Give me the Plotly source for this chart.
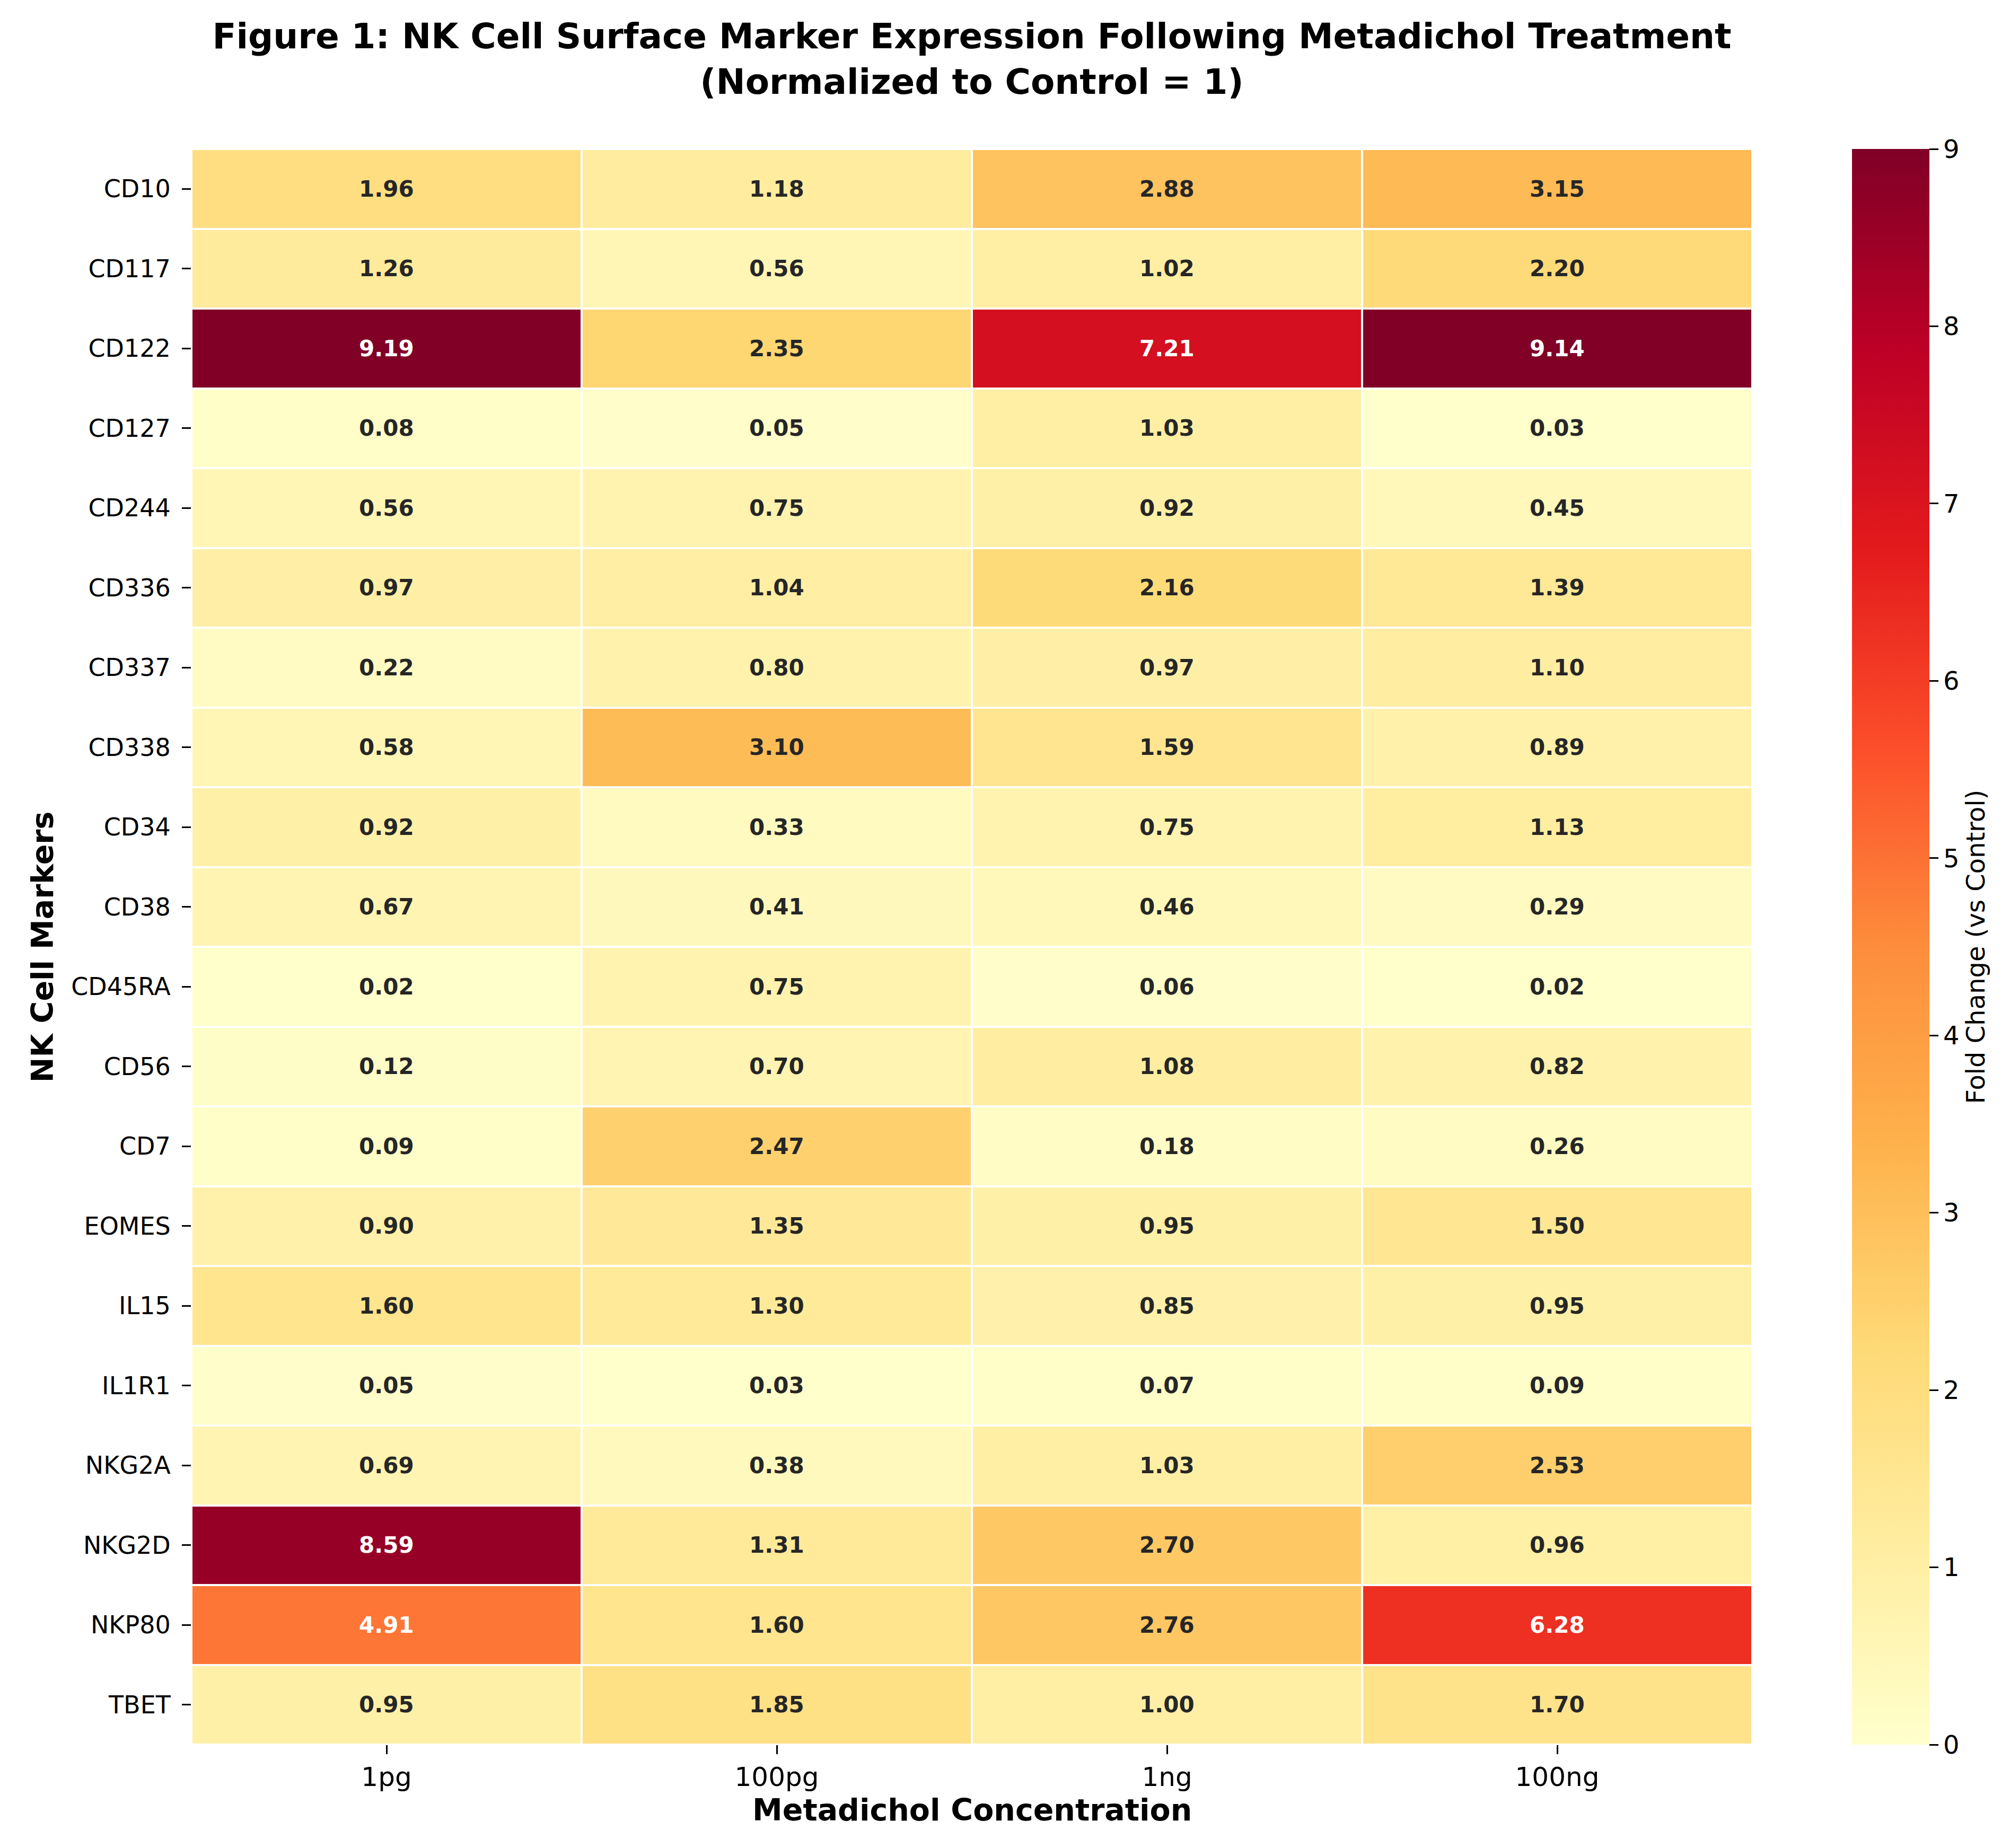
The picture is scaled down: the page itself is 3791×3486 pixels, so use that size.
import plotly.graph_objects as go

markers = ["CD10", "CD117", "CD122", "CD127", "CD244", "CD336", "CD337", "CD338",
           "CD34", "CD38", "CD45RA", "CD56", "CD7", "EOMES", "IL15", "IL1R1",
           "NKG2A", "NKG2D", "NKP80", "TBET"]
concentrations = ["1pg", "100pg", "1ng", "100ng"]

val_1pg = [1.96, 1.26, 9.19, 0.08, 0.56, 0.97, 0.22, 0.58, 0.92, 0.67,
           0.02, 0.12, 0.09, 0.90, 1.60, 0.05, 0.69, 8.59, 4.91, 0.95]
val_100pg = [1.18, 0.56, 2.35, 0.05, 0.75, 1.04, 0.80, 3.10, 0.33, 0.41,
             0.75, 0.70, 2.47, 1.35, 1.30, 0.03, 0.38, 1.31, 1.60, 1.85]
val_1ng = [2.88, 1.02, 7.21, 1.03, 0.92, 2.16, 0.97, 1.59, 0.75, 0.46,
           0.06, 1.08, 0.18, 0.95, 0.85, 0.07, 1.03, 2.70, 2.76, 1.00]
val_100ng = [3.15, 2.20, 9.14, 0.03, 0.45, 1.39, 1.10, 0.89, 1.13, 0.29,
             0.02, 0.82, 0.26, 1.50, 0.95, 0.09, 2.53, 0.96, 6.28, 1.70]

colorbar_ticks = [0, 1, 2, 3, 4, 5, 6, 7, 8, 9]

ylorrd = ["#ffffcc", "#ffeda0", "#fed976", "#feb24c", "#fd8d3c",
          "#fc4e2a", "#e31a1c", "#bd0026", "#800026"]
ZMIN, ZMAX = 0, 9
FONT = "DejaVu Sans"

columns = [val_1pg, val_100pg, val_1ng, val_100ng]
z = [[columns[j][i] for j in range(len(concentrations))] for i in range(len(markers))]

colorscale = [[k / (len(ylorrd) - 1), c] for k, c in enumerate(ylorrd)]


def hex_rgb(h):
    h = h.lstrip("#")
    return [int(h[i:i + 2], 16) for i in (0, 2, 4)]


def cell_color(v):
    t = min(max((v - ZMIN) / (ZMAX - ZMIN), 0), 1) * (len(ylorrd) - 1)
    i = min(int(t), len(ylorrd) - 2)
    f = t - i
    a, b = hex_rgb(ylorrd[i]), hex_rgb(ylorrd[i + 1])
    return [a[k] + (b[k] - a[k]) * f for k in range(3)]


def luminance(rgb):
    out = []
    for c in rgb:
        c = c / 255
        out.append(c / 12.92 if c <= 0.03928 else ((c + 0.055) / 1.055) ** 2.4)
    return 0.2126 * out[0] + 0.7152 * out[1] + 0.0722 * out[2]


fig = go.Figure()
fig.add_trace(go.Heatmap(
    z=z, x=concentrations, y=markers,
    colorscale=colorscale, zmin=ZMIN, zmax=ZMAX,
    xgap=4, ygap=4,
    colorbar=dict(
        x=1.0639, xanchor="left", xpad=0,
        y=0.5, yanchor="middle", len=1.0, lenmode="fraction", ypad=0,
        thickness=146, thicknessmode="pixels",
        outlinewidth=0,
        tickmode="array", tickvals=colorbar_ticks,
        ticks="outside", ticklen=17, tickwidth=3, tickcolor="black",
        tickfont=dict(family=FONT, size=48, color="black"),
        title=dict(text="Fold Change (vs Control)", side="right",
                   font=dict(family=FONT, size=48, color="black")),
    ),
    hoverongaps=False,
))

annotations = []
for i, m in enumerate(markers):
    for j, c in enumerate(concentrations):
        v = z[i][j]
        col = "#262626" if luminance(cell_color(v)) > 0.408 else "white"
        annotations.append(dict(
            x=c, y=m, xref="x", yref="y", text=f"<b>{v:.2f}</b>",
            showarrow=False, font=dict(family=FONT, size=42, color=col),
        ))

annotations.append(dict(
    text="<b>NK Cell Markers</b>", xref="paper", yref="paper",
    x=-0.0954, y=0.5, xanchor="center", yanchor="middle", textangle=-90,
    showarrow=False, font=dict(family=FONT, size=57, color="black"),
))
annotations.append(dict(
    text="<b>Metadichol Concentration</b>", xref="paper", yref="paper",
    x=0.5, y=-0.041, xanchor="center", yanchor="middle",
    showarrow=False, font=dict(family=FONT, size=57, color="black"),
))

fig.update_layout(
    width=3791, height=3486,
    margin=dict(l=353, r=494, t=273, b=203, autoexpand=False),
    paper_bgcolor="white", plot_bgcolor="white",
    font=dict(family=FONT, color="black"),
    title=dict(
        text="<b>Figure 1: NK Cell Surface Marker Expression Following Metadichol Treatment"
             "<br>(Normalized to Control = 1)</b>",
        x=0.5, xref="paper", xanchor="center",
        y=1 - 83 / 3486, yref="container", yanchor="middle",
        font=dict(family=FONT, size=66, color="black"),
    ),
    xaxis=dict(
        type="category", showgrid=False, zeroline=False, showline=False,
        ticks="outside", ticklen=17, tickwidth=3, tickcolor="black",
        tickfont=dict(family=FONT, size=50, color="black"),
        ticklabelstandoff=0,
    ),
    yaxis=dict(
        type="category", autorange="reversed", showgrid=False, zeroline=False,
        showline=False,
        ticks="outside", ticklen=17, tickwidth=3, tickcolor="black",
        tickfont=dict(family=FONT, size=46, color="black"),
        ticklabelstandoff=12,
    ),
    annotations=annotations,
)

fig.write_html("out.html")
